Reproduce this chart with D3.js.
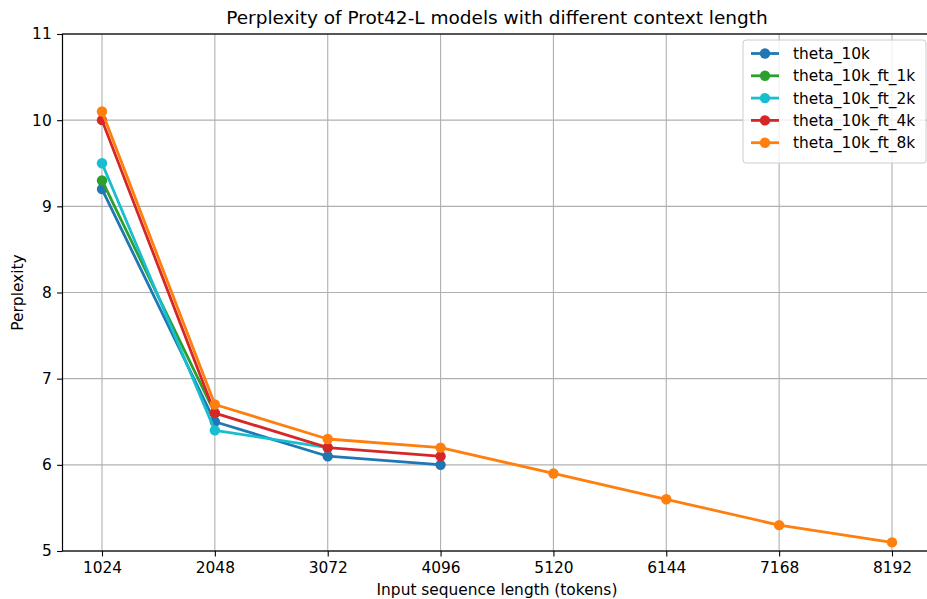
<!DOCTYPE html>
<html><head><meta charset="utf-8">
<script src="https://cdn.jsdelivr.net/npm/d3@7"></script>
<style>body{margin:0;background:#fff;} svg{display:block;font-family:"DejaVu Sans",sans-serif;}</style>
</head><body>
<svg id="c" width="927" height="599"></svg>
<script>
const xTicks = [1024, 2048, 3072, 4096, 5120, 6144, 7168, 8192];
const yTicks = [5, 6, 7, 8, 9, 10, 11];
const seriesNames = ["theta_10k", "theta_10k_ft_1k", "theta_10k_ft_2k", "theta_10k_ft_4k", "theta_10k_ft_8k"];
const seriesColors = ["#1f77b4", "#2ca02c", "#17becf", "#d62728", "#ff7f0e"];
const theta10k = [9.2, 6.5, 6.1, 6.0];
const ft1k = [9.3, 6.6];
const ft2k = [9.5, 6.4, 6.2];
const ft4k = [10.0, 6.6, 6.2, 6.1];
const ft8k = [10.1, 6.7, 6.3, 6.2, 5.9, 5.6, 5.3, 5.1];
const seriesValues = [theta10k, ft1k, ft2k, ft4k, ft8k];

const svg = d3.select("#c");
const L = 62.5, R = 931.5, T = 34, B = 551;
const FS = 15.4;
const x = d3.scaleLinear().domain([665.6, 8550.4]).range([L, R]);
const y = d3.scaleLinear().domain([5, 11]).range([B, T]);

// grid
svg.append("g").selectAll("line").data(xTicks).join("line")
  .attr("x1", d => x(d)).attr("x2", d => x(d)).attr("y1", T).attr("y2", B)
  .attr("stroke", "#b0b0b0").attr("stroke-width", 1.1);
svg.append("g").selectAll("line").data(yTicks).join("line")
  .attr("x1", L).attr("x2", R).attr("y1", d => y(d)).attr("y2", d => y(d))
  .attr("stroke", "#b0b0b0").attr("stroke-width", 1.1);

// axes
const xa = svg.append("g").attr("transform", `translate(0,${B})`)
  .call(d3.axisBottom(x).tickValues(xTicks).tickSize(5.4).tickPadding(5.4).tickFormat(d3.format("d")));
const ya = svg.append("g").attr("transform", `translate(${L},0)`)
  .call(d3.axisLeft(y).tickValues(yTicks).tickSize(5.4).tickPadding(5.4).tickFormat(d3.format("d")));
[xa, ya].forEach(a => {
  a.selectAll("text").attr("font-size", FS + "px").attr("fill", "#000").attr("font-family", "DejaVu Sans, sans-serif");
  a.selectAll("line").attr("stroke", "#000").attr("stroke-width", 1.1);
  a.select(".domain").remove();
});
// spines
svg.append("rect").attr("x", L).attr("y", T).attr("width", R - L).attr("height", B - T)
  .attr("fill", "none").attr("stroke", "#000").attr("stroke-width", 1.2);

// series
const line = d3.line().x((d, i) => x(xTicks[i])).y(d => y(d));
seriesValues.forEach((vals, k) => {
  const g = svg.append("g");
  g.append("path").datum(vals).attr("d", line).attr("fill", "none")
    .attr("stroke", seriesColors[k]).attr("stroke-width", 2.8).attr("stroke-linejoin", "round").attr("stroke-linecap", "square");
  g.selectAll("circle").data(vals).join("circle")
    .attr("cx", (d, i) => x(xTicks[i])).attr("cy", d => y(d)).attr("r", 5.2)
    .attr("fill", seriesColors[k]);
});

// labels
svg.append("text").attr("x", (L + R) / 2).attr("y", 24).attr("text-anchor", "middle")
  .attr("font-size", "18.5px").text("Perplexity of Prot42-L models with different context length");
svg.append("text").attr("x", (L + R) / 2).attr("y", 594.5).attr("text-anchor", "middle")
  .attr("font-size", FS + "px").text("Input sequence length (tokens)");
svg.append("text").attr("transform", `translate(22.5,${(T + B) / 2}) rotate(-90)`).attr("text-anchor", "middle")
  .attr("font-size", FS + "px").text("Perplexity");

// legend
const lg = svg.append("g").attr("transform", "translate(743,40)");
lg.append("rect").attr("x", 0).attr("y", 0).attr("width", 183).attr("height", 123).attr("rx", 3)
  .attr("fill", "#fff").attr("fill-opacity", 0.8).attr("stroke", "#cccccc");
seriesNames.forEach((n, i) => {
  const yy = 13.5 + i * 22.3;
  lg.append("line").attr("x1", 8).attr("x2", 36).attr("y1", yy).attr("y2", yy)
    .attr("stroke", seriesColors[i]).attr("stroke-width", 2.8);
  lg.append("circle").attr("cx", 22).attr("cy", yy).attr("r", 5.2).attr("fill", seriesColors[i]);
  lg.append("text").attr("x", 50).attr("y", yy + 5.5).attr("font-size", FS + "px").text(n);
});
</script>
</body></html>
